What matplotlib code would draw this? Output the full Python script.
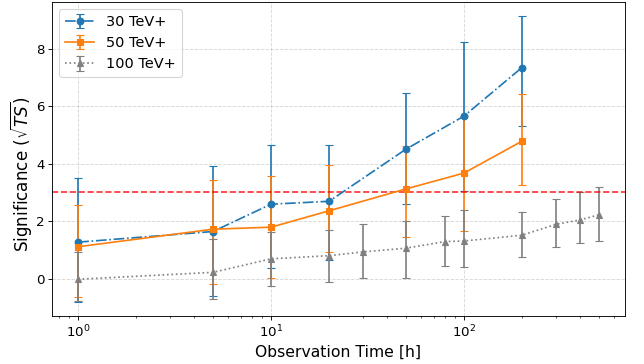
import matplotlib
matplotlib.use("Agg")
import matplotlib.pyplot as plt
import numpy as np

# 30 TeV+
t30 = [1, 5, 10, 20, 50, 100, 200]
s30 = [1.27, 1.64, 2.59, 2.69, 4.50, 5.65, 7.34]
lo30 = [2.07, 2.25, 2.23, 2.05, 1.91, 2.60, 2.04]
hi30 = [2.22, 2.27, 2.07, 1.97, 1.94, 2.58, 1.79]

# 50 TeV+
t50 = [1, 5, 10, 20, 50, 100, 200]
s50 = [1.11, 1.72, 1.79, 2.36, 3.12, 3.67, 4.78]
lo50 = [1.76, 1.92, 1.78, 1.43, 1.66, 2.00, 1.53]
hi50 = [1.46, 1.71, 1.79, 1.59, 1.50, 2.00, 1.65]

# 100 TeV+
t100 = [1, 5, 10, 20, 30, 50, 80, 100, 200, 300, 400, 500]
s100 = [-0.02, 0.22, 0.69, 0.80, 0.93, 1.06, 1.29, 1.31, 1.51, 1.89, 2.04, 2.22]
lo100 = [0.75, 0.91, 0.93, 0.90, 0.90, 1.05, 0.84, 0.90, 0.75, 0.78, 0.79, 0.90]
hi100 = [0.94, 1.17, 0.93, 0.88, 0.96, 0.95, 0.89, 1.09, 0.80, 0.89, 0.98, 0.98]

threshold = 3

DPI = 80.5
fig, ax = plt.subplots(figsize=(644 / DPI, 364 / DPI), dpi=DPI)

ax.errorbar(t30, s30, yerr=[lo30, hi30], fmt='o-.', color='tab:blue',
            capsize=3.5, markersize=6, elinewidth=1.5, label='30 TeV+')
ax.errorbar(t50, s50, yerr=[lo50, hi50], fmt='s-', color='tab:orange',
            capsize=3.5, markersize=6, elinewidth=1.5, label='50 TeV+')
ax.errorbar(t100, s100, yerr=[lo100, hi100], fmt='^:', color='gray',
            capsize=3.5, markersize=6, elinewidth=1.5, label='100 TeV+')

ax.axhline(threshold, color='red', linestyle='--', linewidth=1.5, alpha=0.8)

ax.set_xscale('log')
ax.set_xlabel('Observation Time [h]', fontsize=14)
ax.set_ylabel(r'Significance ($\sqrt{TS}$)', fontsize=15, labelpad=1)
ax.yaxis.label.set_y(0.45)
ax.tick_params(labelsize=12)
ax.grid(True, linestyle='--', alpha=0.5)
ax.legend(loc='upper left', fontsize=13)

fig.subplots_adjust(left=0.081, right=0.970, top=0.995, bottom=0.132)
fig.savefig('out.png', dpi=DPI)
